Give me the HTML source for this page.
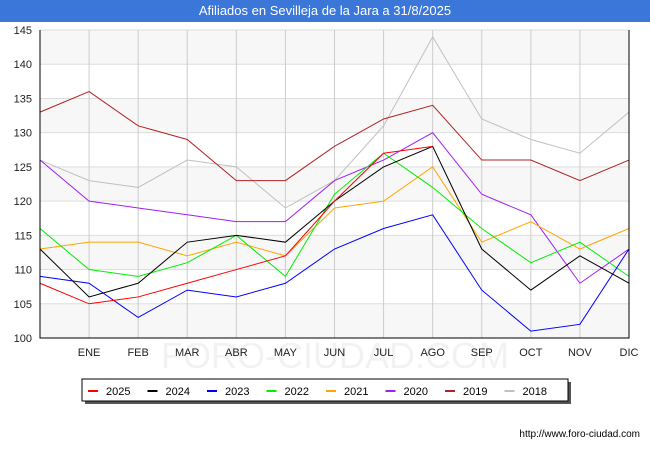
<!DOCTYPE html>
<html><head><meta charset="utf-8"><style>
body{margin:0;width:650px;height:450px;background:#fff;font-family:"Liberation Sans",sans-serif;overflow:hidden}
#title{position:absolute;left:0;top:0;width:650px;height:22px;background:#3a77d8;color:#fff;font-size:13px;line-height:22px;text-align:center}
</style></head><body>
<div id="title">Afiliados en Sevilleja de la Jara a 31/8/2025</div>
<svg id="c" width="650" height="450" style="position:absolute;left:0;top:0"></svg>
<script>
const months=["","ENE","FEB","MAR","ABR","MAY","JUN","JUL","AGO","SEP","OCT","NOV","DIC"];
const yTicks=[100,105,110,115,120,125,130,135,140,145];
const seriesNames=["2025","2024","2023","2022","2021","2020","2019","2018"];
const colors=["#ff0000","#000000","#0000ff","#00ee00","#ffa500","#a020f0","#b22222","#c0c0c0"];
const s2025=[108,105,106,108,110,112,120,127,128];
const s2024=[113,106,108,114,115,114,120,125,128,113,107,112,108];
const s2023=[109,108,103,107,106,108,113,116,118,107,101,102,113];
const s2022=[116,110,109,111,115,109,121,127,122,116,111,114,109];
const s2021=[113,114,114,112,114,112,119,120,125,114,117,113,116];
const s2020=[126,120,119,118,117,117,123,126,130,121,118,108,113];
const s2019=[133,136,131,129,123,123,128,132,134,126,126,123,126];
const s2018=[126,123,122,126,125,119,123,131,144,132,129,127,133];
const all=[s2025,s2024,s2023,s2022,s2021,s2020,s2019,s2018];
const X0=40,X1=629,Y0=338,Y1=30;
const x=i=>X0+(X1-X0)*i/(months.length-1);
const y=v=>Y0-(v-100)*(Y0-Y1)/45;
const svg=document.getElementById('c');const NS="http://www.w3.org/2000/svg";
function mk(t,a,p){const e=document.createElementNS(NS,t);for(const k in a)e.setAttribute(k,a[k]);(p||svg).appendChild(e);return e;}
for(let i=0;i<yTicks.length-1;i+=2){const r=mk('rect',{x:X0,y:y(yTicks[i+1]),width:X1-X0,height:y(yTicks[i])-y(yTicks[i+1]),fill:'#f7f7f7'});

}
yTicks.forEach(v=>{const l=mk('line',{x1:X0,x2:X1,y1:y(v),y2:y(v),stroke:'#ddd'});


const t=mk('text',{x:X0-8,y:y(v)+4,'text-anchor':'end','font-size':11,fill:'#222'});t.textContent=v;

});
months.forEach((m,i)=>{if(i>0){const l=mk('line',{x1:x(i),x2:x(i),y1:Y1,y2:Y0,stroke:'#ccc'});

}
const t=mk('text',{x:x(i),y:356,'text-anchor':'middle','font-size':11,fill:'#222'});t.textContent=m;

});
const wm=mk('text',{x:335,y:368,'text-anchor':'middle','font-size':36,fill:'#000','fill-opacity':0.05});wm.textContent="FORO-CIUDAD.COM";


for(let s=all.length-1;s>=0;s--){const p=mk('polyline',{points:all[s].map((v,i)=>x(i)+','+y(v)).join(' '),fill:'none',stroke:colors[s],'stroke-width':1});

}
const ax=mk('polyline',{points:`${X0},${Y1} ${X0},${Y0} ${X1},${Y0} ${X1},${Y1}`,fill:'none',stroke:'#000'});


const g=mk('g',{});
mk('rect',{x:85,y:382,width:486,height:22,fill:'#555'},g);
mk('rect',{x:82,y:379,width:486,height:22,fill:'#fff',stroke:'#000'},g);
seriesNames.forEach((n,i)=>{const lx=88+i*59.5;
const l=mk('line',{x1:lx,x2:lx+10,y1:391,y2:391,stroke:colors[i],'stroke-width':2},g);


const t=mk('text',{x:lx+18,y:395,'font-size':11,fill:'#000'},g);t.textContent=n;

});
const u=mk('text',{x:640,y:437,'text-anchor':'end','font-size':10,fill:'#000'});u.textContent="http://www.foro-ciudad.com";


</script>
</body></html>
